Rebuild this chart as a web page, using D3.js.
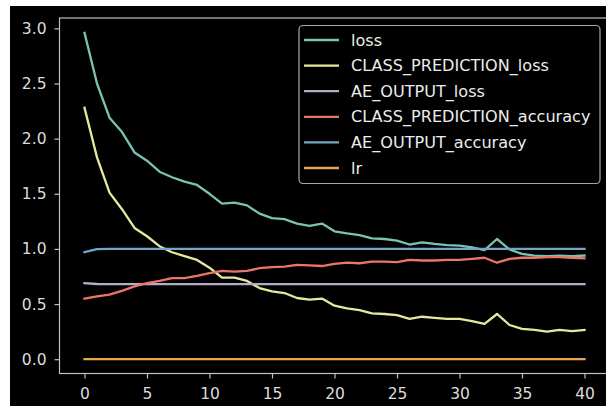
<!DOCTYPE html>
<html>
<head>
<meta charset="utf-8">
<script src="https://cdn.jsdelivr.net/npm/d3@7"></script>
<style>
  html, body { margin: 0; padding: 0; background: #ffffff; }
  svg { display: block; }
  text { font-family: "DejaVu Sans", sans-serif; }
</style>
</head>
<body>
<svg id="chart" width="606" height="406"></svg>
<script>
const epochs = d3.range(0, 41);

const loss = [2.96, 2.50, 2.19, 2.06, 1.875, 1.80, 1.70, 1.65, 1.61, 1.58,
  1.50, 1.41, 1.42, 1.395, 1.32, 1.28, 1.27, 1.23, 1.21, 1.23,
  1.16, 1.14, 1.125, 1.095, 1.09, 1.075, 1.04, 1.06, 1.045, 1.035,
  1.03, 1.015, 0.99, 1.09, 0.995, 0.955, 0.94, 0.935, 0.94, 0.935, 0.94];

const classPredictionLoss = [2.28, 1.83, 1.51, 1.36, 1.19, 1.115, 1.025, 0.97, 0.935, 0.90,
  0.83, 0.74, 0.74, 0.71, 0.645, 0.615, 0.60, 0.555, 0.54, 0.55,
  0.485, 0.46, 0.445, 0.415, 0.41, 0.40, 0.365, 0.385, 0.375, 0.365,
  0.365, 0.345, 0.32, 0.41, 0.31, 0.275, 0.265, 0.25, 0.265, 0.255, 0.265];

const aeOutputLoss = [0.69, 0.682, 0.68, 0.68, 0.68, 0.68, 0.68, 0.68, 0.68, 0.68,
  0.68, 0.68, 0.68, 0.68, 0.68, 0.68, 0.68, 0.68, 0.68, 0.68,
  0.68, 0.68, 0.68, 0.68, 0.68, 0.68, 0.68, 0.68, 0.68, 0.68,
  0.68, 0.68, 0.68, 0.68, 0.68, 0.68, 0.68, 0.68, 0.68, 0.68, 0.68];

const classPredictionAccuracy = [0.55, 0.57, 0.585, 0.62, 0.66, 0.69, 0.71, 0.735, 0.735, 0.755,
  0.78, 0.80, 0.795, 0.80, 0.825, 0.835, 0.84, 0.855, 0.85, 0.845,
  0.865, 0.875, 0.87, 0.885, 0.885, 0.88, 0.90, 0.895, 0.895, 0.90,
  0.90, 0.91, 0.92, 0.875, 0.91, 0.92, 0.92, 0.925, 0.925, 0.92, 0.915];

const aeOutputAccuracy = [0.97, 0.998, 1.0, 1.0, 1.0, 1.0, 1.0, 1.0, 1.0, 1.0,
  1.0, 1.0, 1.0, 1.0, 1.0, 1.0, 1.0, 1.0, 1.0, 1.0,
  1.0, 1.0, 1.0, 1.0, 1.0, 1.0, 1.0, 1.0, 1.0, 1.0,
  1.0, 1.0, 1.0, 1.0, 1.0, 1.0, 1.0, 1.0, 1.0, 1.0, 1.0];

const lr = [0.001, 0.001, 0.001, 0.001, 0.001, 0.001, 0.001, 0.001, 0.001, 0.001,
  0.001, 0.001, 0.001, 0.001, 0.001, 0.001, 0.001, 0.001, 0.001, 0.001,
  0.001, 0.001, 0.001, 0.001, 0.001, 0.001, 0.001, 0.001, 0.001, 0.001,
  0.001, 0.001, 0.001, 0.001, 0.001, 0.001, 0.001, 0.001, 0.001, 0.001, 0.001];

const seriesNames = ["loss", "CLASS_PREDICTION_loss", "AE_OUTPUT_loss",
  "CLASS_PREDICTION_accuracy", "AE_OUTPUT_accuracy", "lr"];
const seriesValues = [loss, classPredictionLoss, aeOutputLoss,
  classPredictionAccuracy, aeOutputAccuracy, lr];
const seriesColors = ["#7cc2b4", "#e8e89c", "#b0acca", "#ea7669", "#76a6c6", "#e8a456"];

const xTicks = [0, 5, 10, 15, 20, 25, 30, 35, 40];
const yTicks = [0.0, 0.5, 1.0, 1.5, 2.0, 2.5, 3.0];

const svg = d3.select("#chart");

// figure background (black panel with white margin at top/left)
svg.append("rect").attr("x", 0).attr("y", 0).attr("width", 606).attr("height", 406).attr("fill", "#ffffff");
svg.append("rect").attr("x", 10).attr("y", 6).attr("width", 596).attr("height", 400).attr("fill", "#000000");

const plotLeft = 59.5, plotRight = 609.5, plotTop = 18, plotBottom = 373.5;
const x = d3.scaleLinear().domain([-2, 42]).range([plotLeft, plotRight]);
const y = d3.scaleLinear().domain([-0.1297, 3.094]).range([plotBottom, plotTop]);

const axisColor = "#c0c0c0";

// lines
const line = d3.line().x((d, i) => x(epochs[i])).y(d => y(d));
const plot = svg.append("g");
seriesValues.forEach((vals, k) => {
  plot.append("path")
    .datum(vals)
    .attr("d", line)
    .attr("fill", "none")
    .attr("stroke", seriesColors[k])
    .attr("stroke-width", 2.3)
    .attr("stroke-linejoin", "round")
    .attr("stroke-linecap", "square");
});

// axes
const yAxis = svg.append("g")
  .attr("transform", `translate(${plotLeft},0)`)
  .call(d3.axisLeft(y).tickValues(yTicks).tickFormat(d3.format(".1f")).tickSize(5).tickPadding(8));
const xAxis = svg.append("g")
  .attr("transform", `translate(0,${plotBottom})`)
  .call(d3.axisBottom(x).tickValues(xTicks).tickFormat(d3.format("d")).tickSize(5).tickPadding(9));

[yAxis, xAxis].forEach(g => {
  g.select(".domain").remove();
  g.selectAll(".tick line").attr("stroke", axisColor).attr("stroke-width", 1.2);
  g.selectAll(".tick text").attr("fill", "#dcdcdc").attr("font-size", "15.5px")
    .attr("font-family", "DejaVu Sans, sans-serif");
});

// spines
svg.append("rect")
  .attr("x", plotLeft).attr("y", plotTop)
  .attr("width", plotRight - plotLeft).attr("height", plotBottom - plotTop)
  .attr("fill", "none").attr("stroke", axisColor).attr("stroke-width", 1.2);

// legend
const legend = svg.append("g");
legend.append("rect")
  .attr("x", 299).attr("y", 25.5).attr("width", 301).attr("height", 158)
  .attr("rx", 4).attr("ry", 4)
  .attr("fill", "#000000").attr("fill-opacity", 0.8)
  .attr("stroke", "#a8a8a8").attr("stroke-width", 1.2);

seriesNames.forEach((name, k) => {
  const ly = 40 + k * 25.6;
  legend.append("line")
    .attr("x1", 304).attr("x2", 339)
    .attr("y1", ly).attr("y2", ly)
    .attr("stroke", seriesColors[k]).attr("stroke-width", 2.3);
  legend.append("text")
    .attr("x", 351).attr("y", ly).attr("dy", "0.35em")
    .attr("fill", "#ececec").attr("font-size", "16.1px")
    .text(name);
});
</script>
</body>
</html>
